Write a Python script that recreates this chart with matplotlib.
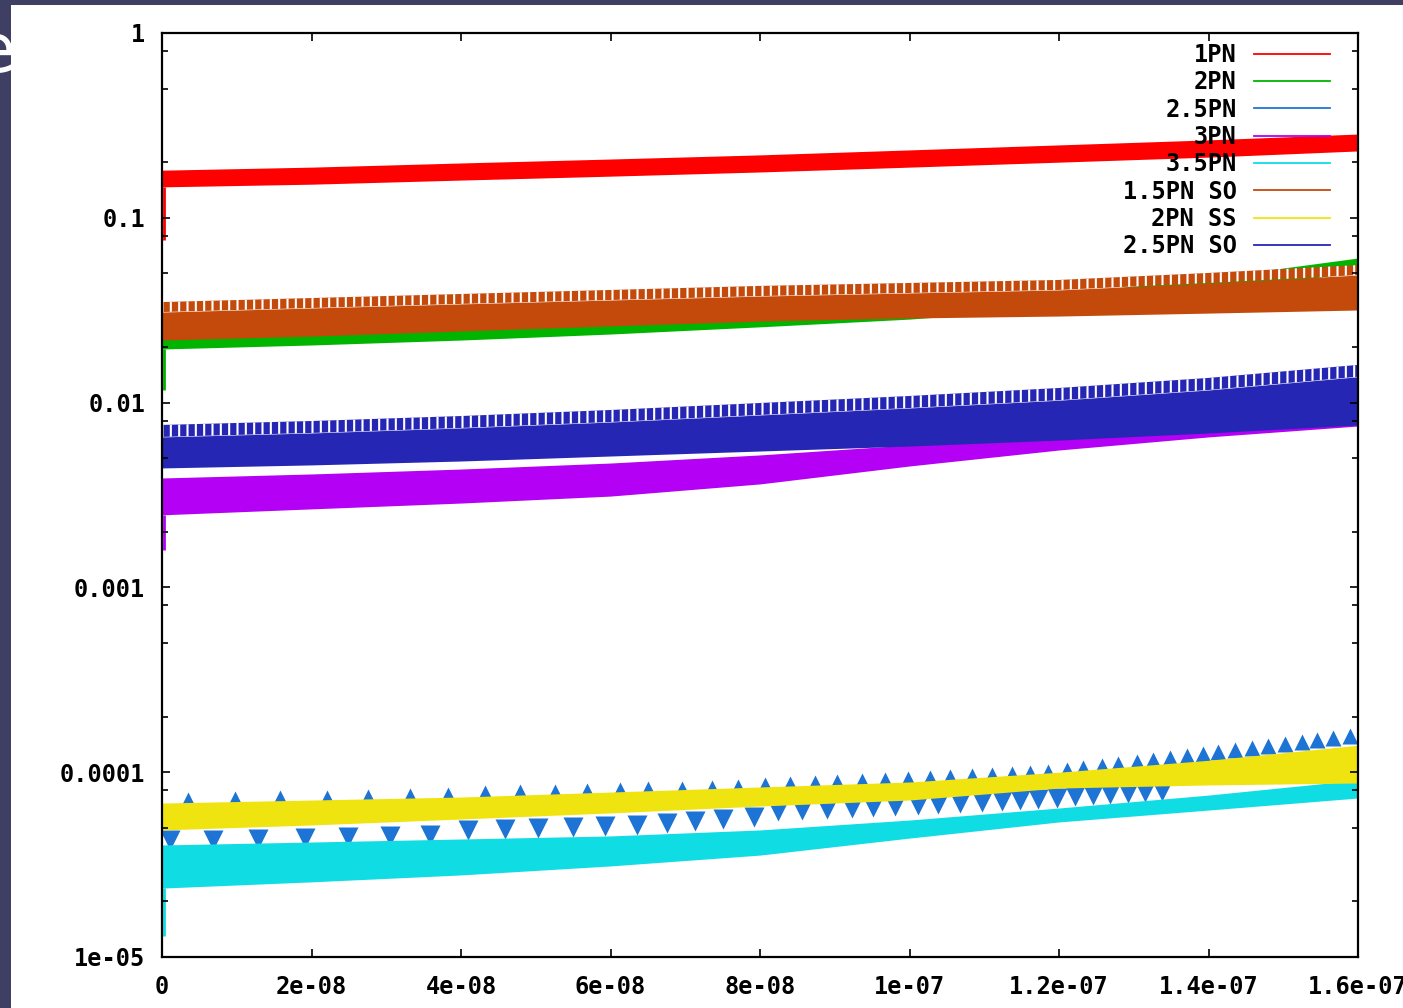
import numpy as np
import matplotlib
matplotlib.use("Agg")
import matplotlib.pyplot as plt
from matplotlib.lines import Line2D
from matplotlib.patches import Rectangle
from matplotlib.ticker import FixedLocator, FixedFormatter, LogLocator, NullFormatter

# envelope sample times (s)
t = np.array([0, 2, 4, 6, 8, 10, 12, 14, 16]) * 1e-8

# upper / lower envelopes of each fast-oscillating term
pn1_hi = [0.181, 0.188, 0.198, 0.208, 0.219, 0.233, 0.248, 0.264, 0.284]
pn1_lo = [0.147, 0.152, 0.160, 0.168, 0.177, 0.188, 0.200, 0.213, 0.230]

pn2_hi = [0.0232, 0.0244, 0.0260, 0.0280, 0.0305, 0.0337, 0.0387, 0.0472, 0.0606]
pn2_lo = [0.0195, 0.0205, 0.0218, 0.0235, 0.0257, 0.0283, 0.0325, 0.0397, 0.0509]

pn3_hi = [0.00391, 0.00411, 0.00437, 0.00471, 0.00521, 0.00590, 0.00668, 0.00757, 0.00857]
pn3_lo = [0.00247, 0.00266, 0.00286, 0.00312, 0.00363, 0.00454, 0.00554, 0.00652, 0.00747]

pn35_hi = [4.04e-5, 4.19e-5, 4.35e-5, 4.52e-5, 4.87e-5, 5.51e-5, 6.40e-5, 7.52e-5, 9.07e-5]
pn35_lo = [2.36e-5, 2.55e-5, 2.78e-5, 3.11e-5, 3.56e-5, 4.40e-5, 5.38e-5, 6.24e-5, 7.25e-5]

so15_hi = [0.0350, 0.0368, 0.0387, 0.0407, 0.0428, 0.0444, 0.0461, 0.0503, 0.0555]
so15_crest = [0.0309, 0.0325, 0.0342, 0.0359, 0.0377, 0.0392, 0.0407, 0.0444, 0.0490]
so15_lo = [0.0218, 0.0229, 0.0244, 0.0260, 0.0276, 0.0287, 0.0294, 0.0305, 0.0317]

ss2_hi = [6.81e-5, 7.07e-5, 7.34e-5, 7.81e-5, 8.32e-5, 8.85e-5, 1.00e-4, 1.16e-4, 1.40e-4]
ss2_lo = [4.87e-5, 5.18e-5, 5.58e-5, 6.02e-5, 6.56e-5, 7.07e-5, 8.21e-5, 8.53e-5, 8.74e-5]

so25_hi = [0.00757, 0.00795, 0.00846, 0.00912, 0.00995, 0.01086, 0.0120, 0.0136, 0.0160]
so25_crest = [0.00652, 0.00685, 0.00729, 0.00785, 0.00857, 0.00935, 0.0103, 0.0117, 0.0138]
so25_lo = [0.00443, 0.00460, 0.00483, 0.00514, 0.00547, 0.00582, 0.00627, 0.00685, 0.00757]

# start-up transient at t ~ 0 (1PN, 2PN, 3PN, 3.5PN)
dip_t = 3e-10
dip_lo = [0.0758, 0.0117, 0.00159, 1.3e-5]

# 2.5PN: maxima and minima of the slow modulation (times in ns)
pn25_peak_t = np.array([3.48, 9.77, 15.79, 22.07, 27.56, 33.18, 38.26,
                        43.21, 47.89, 52.57, 56.85, 61.27, 65.02, 69.56, 73.58, 77.06,
                        80.67, 84.01, 87.36, 90.30, 93.65, 96.72, 99.80, 102.74,
                        105.42, 108.36, 111.04, 113.71, 116.12, 118.53,
                        121.07, 123.21, 125.75, 127.89, 130.44, 132.57, 134.85, 137.12,
                        139.26, 141.27, 143.55, 145.82, 147.96, 150.23, 152.51, 154.52,
                        156.66, 158.93]) * 1e-9
pn25_peak = [7.07e-5, 7.16e-5, 7.25e-5, 7.25e-5, 7.34e-5, 7.44e-5, 7.53e-5,
             7.72e-5, 7.82e-5, 7.82e-5, 7.91e-5, 8.01e-5, 8.11e-5, 8.11e-5, 8.21e-5, 8.32e-5,
             8.53e-5, 8.63e-5, 8.74e-5, 8.85e-5, 8.96e-5, 9.08e-5, 9.19e-5, 9.31e-5,
             9.42e-5, 9.54e-5, 9.66e-5, 9.78e-5, 9.90e-5, 1.003e-4,
             1.028e-4, 1.054e-4, 1.080e-4, 1.108e-4, 1.135e-4, 1.164e-4, 1.193e-4, 1.223e-4,
             1.254e-4, 1.286e-4, 1.318e-4, 1.352e-4, 1.386e-4, 1.421e-4, 1.456e-4, 1.493e-4,
             1.531e-4, 1.569e-4]
pn25_trough_t = np.array([1.07, 6.82, 12.84, 19.13, 24.88, 30.50, 35.85,
                          40.94, 45.89, 50.30, 54.99, 59.26, 63.54, 67.56, 71.30, 75.05, 79.20,
                          82.41, 85.62, 88.97, 92.31, 95.12, 98.06, 101.14, 103.82,
                          106.76, 109.70, 112.38, 114.78, 117.19, 119.74,
                          122.14, 124.55, 126.82, 129.23, 131.50, 133.78]) * 1e-9
pn25_trough = [4.30e-5, 4.30e-5, 4.35e-5, 4.41e-5, 4.46e-5, 4.52e-5, 4.57e-5,
               4.87e-5, 4.93e-5, 4.99e-5, 5.05e-5, 5.11e-5, 5.18e-5, 5.31e-5, 5.44e-5, 5.58e-5, 5.72e-5,
               6.17e-5, 6.24e-5, 6.32e-5, 6.40e-5, 6.48e-5, 6.56e-5, 6.65e-5, 6.73e-5,
               6.81e-5, 6.90e-5, 6.99e-5, 7.07e-5, 7.16e-5, 7.25e-5,
               7.44e-5, 7.53e-5, 7.62e-5, 7.72e-5, 7.82e-5, 7.91e-5]

labels = ["1PN", "2PN", "2.5PN", "3PN", "3.5PN", "1.5PN SO", "2PN SS", "2.5PN SO"]
colors = ["#ff0000", "#00b400", "#1e74d4", "#b400f4", "#10dce4", "#c44a0c", "#f0e410", "#2626b4"]

xticks = np.arange(0, 1.61e-7, 2e-8)
xtick_labels = ["0", "2e-08", "4e-08", "6e-08", "8e-08", "1e-07", "1.2e-07", "1.4e-07", "1.6e-07"]
yticks = [1e-5, 1e-4, 1e-3, 1e-2, 1e-1, 1]
ytick_labels = ["1e-05", "0.0001", "0.001", "0.01", "0.1", "1"]

mono = {"family": "DejaVu Sans Mono", "weight": "bold", "size": 17}
plt.rcParams["hatch.linewidth"] = 1.5

fig = plt.figure(figsize=(14.03, 10.08), dpi=100, facecolor="#3e3f62")
# slide title peeking out behind the white panel
fig.text(15 / 1403, 1 - 72 / 1008, "e", color="white", fontsize=48,
         ha="right", va="baseline", zorder=-2)
fig.patches.append(Rectangle((11 / 1403, 0), 1, 1 - 5 / 1008, transform=fig.transFigure,
                             facecolor="white", edgecolor="none", zorder=-1))

ax = fig.add_axes([162 / 1403, 51 / 1008, 1196 / 1403, 924 / 1008])
ax.set_yscale("log")

z = 1
ax.fill_between(t, pn1_lo, pn1_hi, color=colors[0], lw=0, zorder=z)
ax.fill_between(t, pn2_lo, pn2_hi, color=colors[1], lw=0, zorder=z + 1)
ax.plot(pn25_peak_t, pn25_peak, ls="none", marker="^", ms=12, color=colors[2], mec="none", zorder=z + 2)
ax.plot(pn25_trough_t, pn25_trough, ls="none", marker="v", ms=14, color=colors[2], mec="none", zorder=z + 2)
ax.fill_between(t, pn3_lo, pn3_hi, color=colors[3], lw=0, zorder=z + 3)
ax.fill_between(t, pn35_lo, pn35_hi, color=colors[4], lw=0, zorder=z + 4)
ax.fill_between(t, so15_lo, so15_crest, color=colors[5], lw=0, zorder=z + 5)
ax.fill_between(t, so15_crest, so15_hi, facecolor=colors[5], edgecolor="white", hatch="||",
                lw=0, zorder=z + 5)
ax.fill_between(t, ss2_lo, ss2_hi, color=colors[6], lw=0, zorder=z + 6)
ax.fill_between(t, so25_lo, so25_crest, color=colors[7], lw=0, zorder=z + 7)
ax.fill_between(t, so25_crest, so25_hi, facecolor=colors[7], edgecolor="white", hatch="||",
                lw=0, zorder=z + 7)

# t ~ 0 transients
band_start = [pn1_lo[0], pn2_lo[0], pn3_lo[0], pn35_lo[0]]
for c, lo, top in zip([colors[0], colors[1], colors[3], colors[4]], dip_lo, band_start):
    ax.vlines(dip_t, lo, top, color=c, lw=2, zorder=z)

ax.set_xlim(0, 1.6e-7)
ax.set_ylim(1e-5, 1)

ax.xaxis.set_major_locator(FixedLocator(xticks))
ax.xaxis.set_major_formatter(FixedFormatter(xtick_labels))
ax.yaxis.set_major_locator(FixedLocator(yticks))
ax.yaxis.set_major_formatter(FixedFormatter(ytick_labels))
ax.yaxis.set_minor_locator(LogLocator(base=10, subs=[2, 5, 8]))
ax.yaxis.set_minor_formatter(NullFormatter())
ax.xaxis.set_minor_locator(FixedLocator([]))

ax.tick_params(which="both", direction="in", top=True, right=True, width=1.2, color="black")
ax.tick_params(which="major", length=6)
ax.tick_params(which="minor", length=4)
ax.tick_params(axis="x", pad=13)
ax.tick_params(axis="y", pad=12)
for lab in ax.get_xticklabels() + ax.get_yticklabels():
    lab.set_fontfamily(mono["family"])
    lab.set_fontweight(mono["weight"])
    lab.set_fontsize(mono["size"])

for sp in ax.spines.values():
    sp.set_linewidth(1.6)
    sp.set_zorder(20)
ax.xaxis.set_zorder(20)
ax.yaxis.set_zorder(20)

handles = [Line2D([], [], color=c, lw=1.3) for c in colors]
leg = ax.legend(handles, labels, loc="upper right", bbox_to_anchor=(1 - 28 / 1196, 1 - 10 / 924),
                frameon=False, markerfirst=False, prop=mono, handlelength=3.2,
                handletextpad=0.75, labelspacing=0.14, borderaxespad=0, borderpad=0)
leg.set_zorder(25)

fig.savefig("out.png", dpi=100, facecolor=fig.get_facecolor())
